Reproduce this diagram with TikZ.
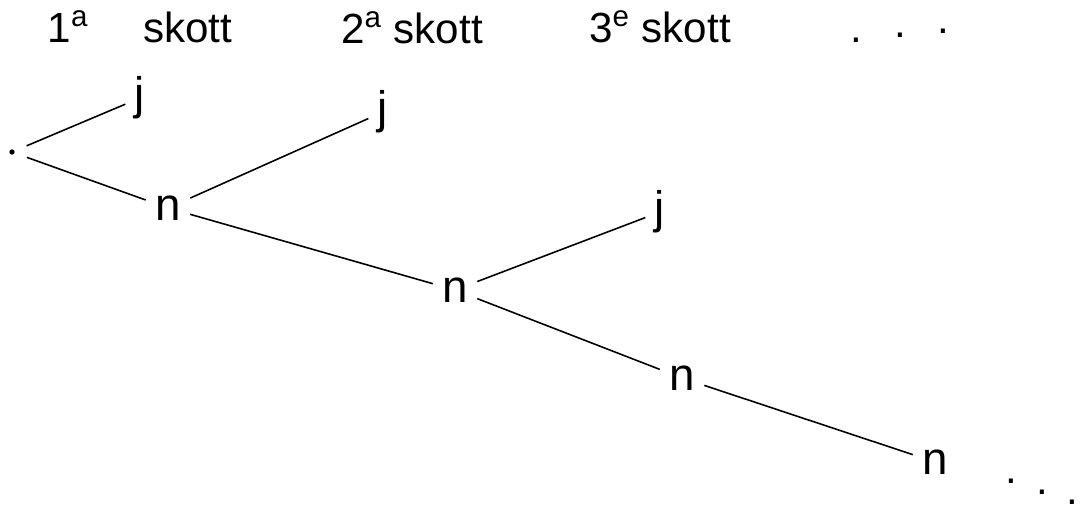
\documentclass[tikz,border=0pt]{standalone}
\usepackage{fontspec}
\setmainfont{Liberation Sans}
\begin{document}
\begin{tikzpicture}[x=0.02cm, y=-0.02cm, line width=0.9pt]
    \tikzset{lbl/.style={font=\fontsize{24}{28}\selectfont},
             ch/.style={font=\fontsize{26}{30}\selectfont, inner sep=5pt}}
    \useasboundingbox (0,0) rectangle (1082,517);

    % shot headings
    \node[lbl] (h1) at (140,27) {1\textsuperscript{a}\hspace{1.3em}skott};
    \node[lbl] (h2) at (412,28) {2\textsuperscript{a} skott};
    \node[lbl] (h3) at (660,27) {3\textsuperscript{e} skott};
    \node[lbl, inner sep=1pt] (hdots) at (900,36)
        {.\hspace{0.75em}\raisebox{3pt}{.}\hspace{0.75em}\raisebox{5pt}{.}};

    % tree
    \coordinate (root) at (12,152);
    \fill (root) circle (1.5pt);
    \node[ch] (j1) at (140,98) {j};
    \node[ch] (n1) at (168,208) {n};
    \node[ch] (j2) at (383,112) {j};
    \node[ch] (n2) at (455,290) {n};
    \node[ch] (j3) at (660,212) {j};
    \node[ch] (n3) at (682,378) {n};
    \node[ch] (n4) at (935,462) {n};
    %continues below right
    \node[lbl, inner sep=1pt] (tdots) at (1042,492)
        {.\hspace{0.45em}\raisebox{-6pt}{.}\hspace{0.45em}\raisebox{-12pt}{.}};

    \draw[shorten <=9pt] (root) -- (j1);
    \draw[shorten <=9pt] (root) -- (n1);
    \draw (n1) -- (j2);
    \draw (n1) -- (n2);
    \draw (n2) -- (j3);
    \draw (n2) -- (n3);
    \draw (n3) -- (n4);
\end{tikzpicture}
\end{document}
